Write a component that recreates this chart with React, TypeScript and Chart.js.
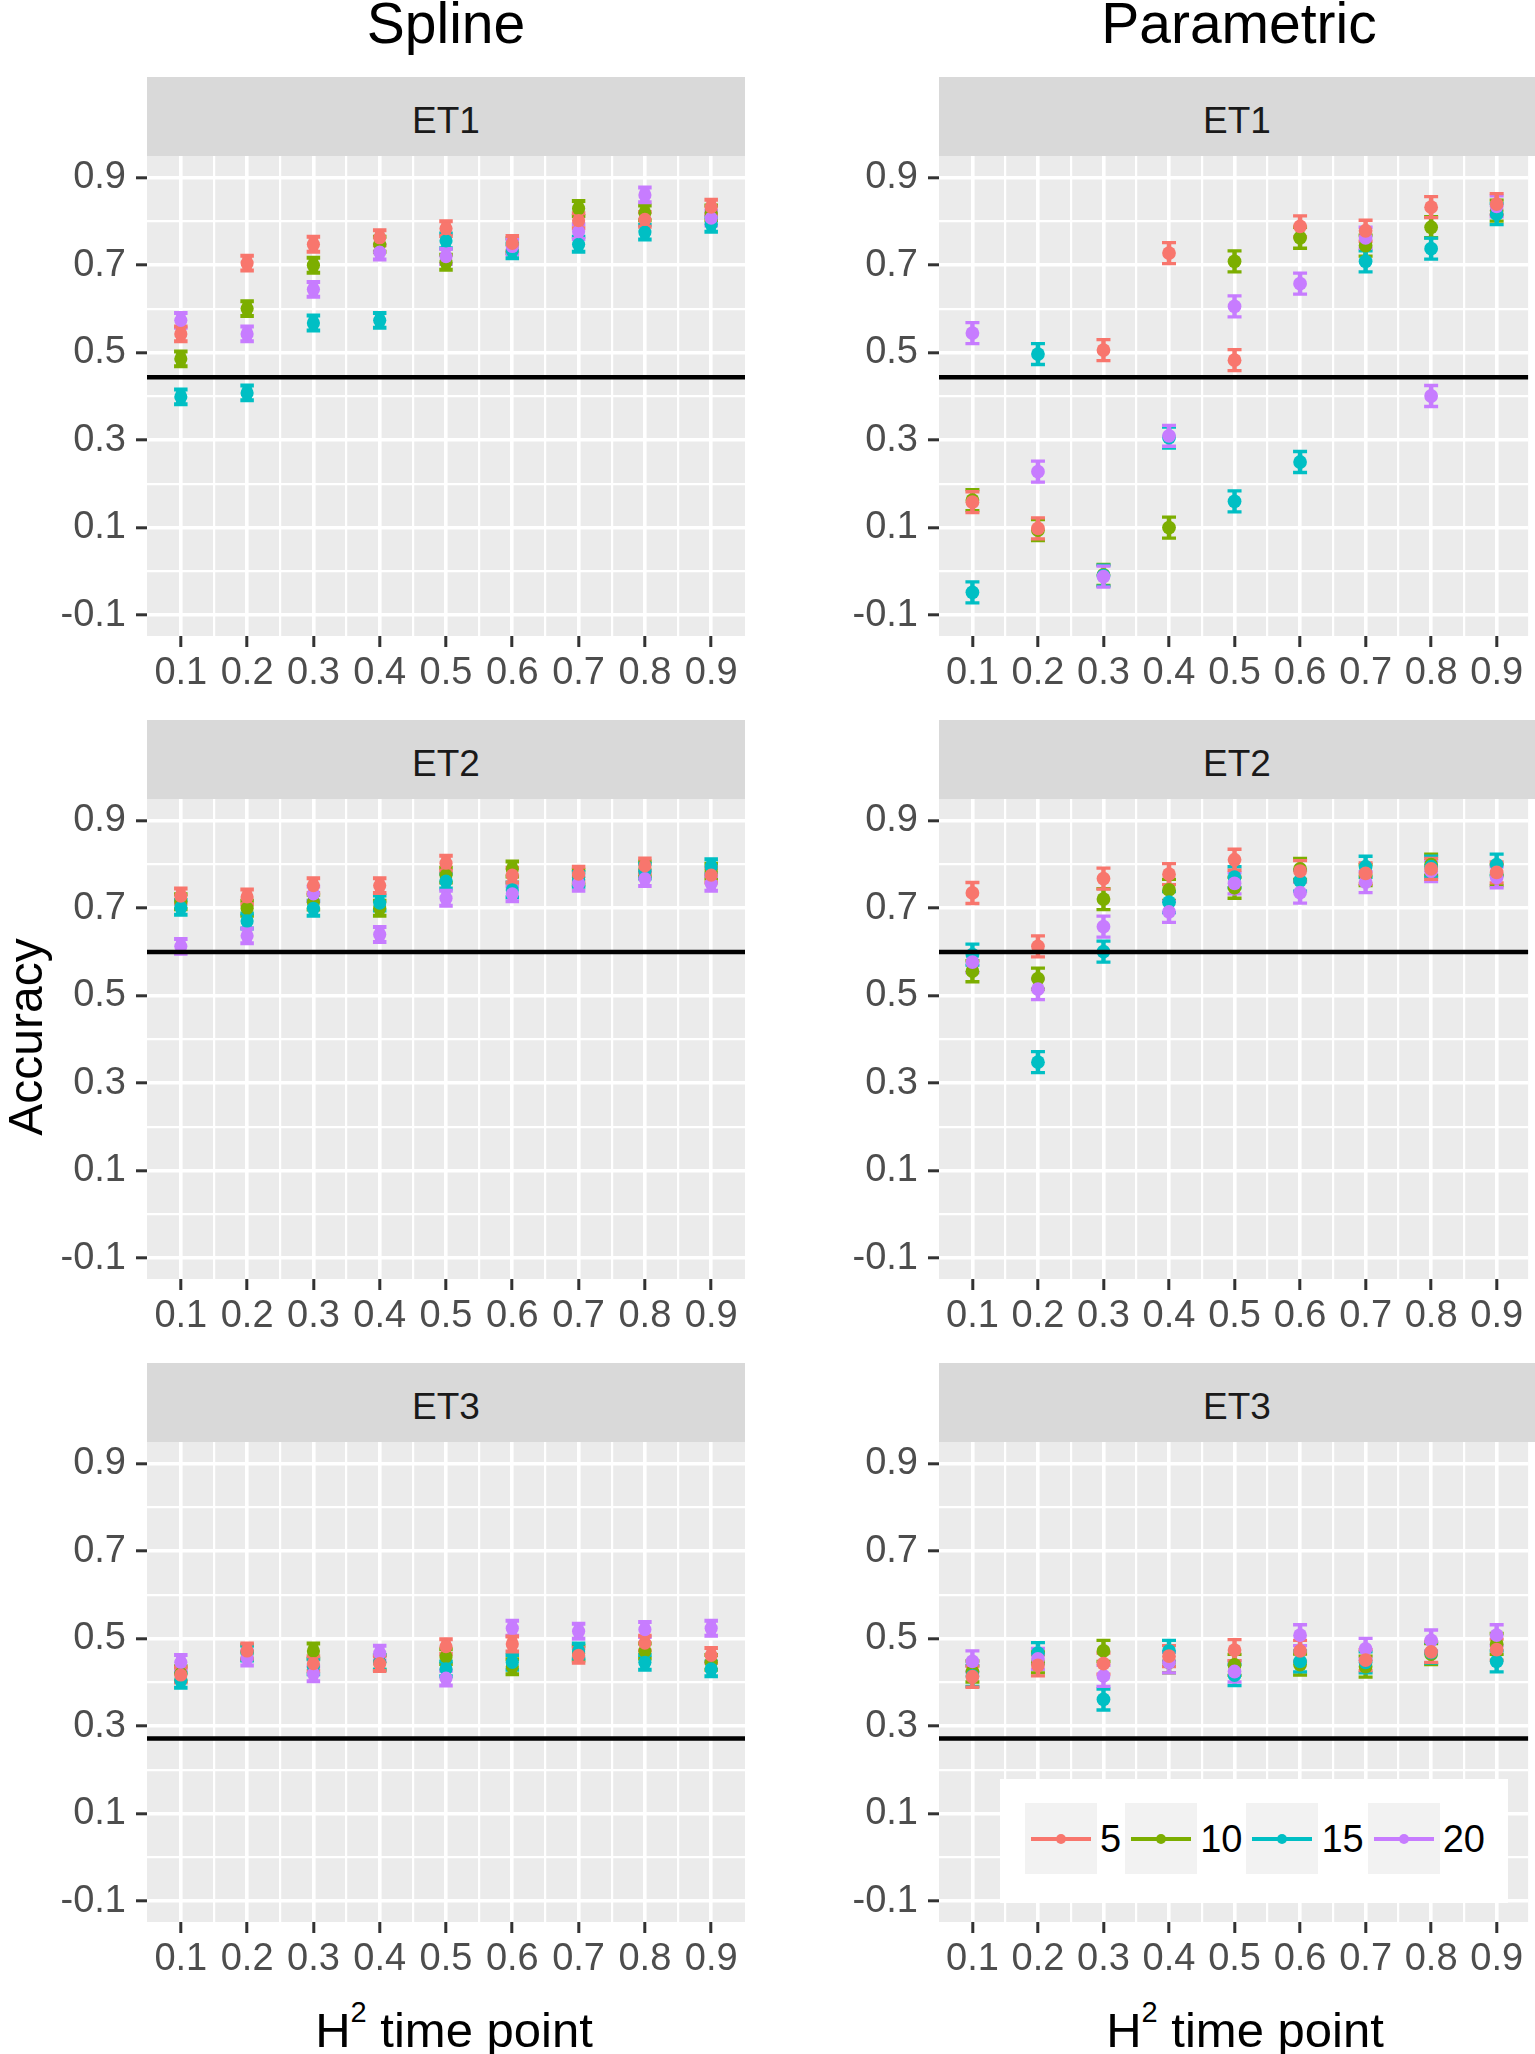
import React, { useEffect, useRef } from 'react';
import { Chart, registerables } from 'chart.js';

Chart.register(...registerables);

// ---- data ----
const timePoints = [0.1, 0.2, 0.3, 0.4, 0.5, 0.6, 0.7, 0.8, 0.9];
const groupLabels = ['5', '10', '15', '20'];
const groupColors = ['#F8766D', '#7CAE00', '#00BFC4', '#C77CFF'];
// which group ends up on top (0 = top): 5, then 20, 15, 10
const stackOrder = [0, 3, 2, 1];

const yMajorTicks = [-0.1, 0.1, 0.3, 0.5, 0.7, 0.9];
const yMinorTicks = [0, 0.2, 0.4, 0.6, 0.8];
const xMajorTicks = [0.1, 0.2, 0.3, 0.4, 0.5, 0.6, 0.7, 0.8, 0.9];
const xMinorTicks = [0.15, 0.25, 0.35, 0.45, 0.55, 0.65, 0.75, 0.85];

// Spline, ET1
const splineEt1N5 = [0.543, 0.705, 0.748, 0.763, 0.784, 0.75, 0.802, 0.805, 0.833];
const splineEt1N10 = [0.486, 0.601, 0.7, 0.748, 0.707, 0.745, 0.83, 0.82, 0.82];
const splineEt1N15 = [0.399, 0.408, 0.568, 0.574, 0.756, 0.733, 0.748, 0.776, 0.794];
const splineEt1N20 = [0.574, 0.543, 0.645, 0.73, 0.72, 0.743, 0.777, 0.861, 0.808];
// Parametric, ET1
const paramEt1N5 = [0.158, 0.098, 0.506, 0.728, 0.483, 0.789, 0.779, 0.833, 0.84];
const paramEt1N10 = [0.163, 0.094, -0.008, 0.1, 0.709, 0.763, 0.745, 0.787, 0.825];
const paramEt1N15 = [-0.048, 0.497, -0.01, 0.306, 0.16, 0.25, 0.709, 0.738, 0.817];
const paramEt1N20 = [0.545, 0.228, -0.012, 0.31, 0.606, 0.658, 0.763, 0.401, 0.835];
// Spline, ET2
const splineEt2N5 = [0.728, 0.726, 0.752, 0.752, 0.803, 0.776, 0.778, 0.797, 0.776];
const splineEt2N10 = [0.715, 0.7, 0.714, 0.7, 0.776, 0.79, 0.771, 0.79, 0.785];
const splineEt2N15 = [0.702, 0.671, 0.7, 0.712, 0.762, 0.742, 0.766, 0.785, 0.795];
const splineEt2N20 = [0.613, 0.637, 0.733, 0.64, 0.723, 0.733, 0.757, 0.768, 0.757];
// Parametric, ET2
const paramEt2N5 = [0.735, 0.613, 0.768, 0.778, 0.811, 0.785, 0.78, 0.79, 0.782];
const paramEt2N10 = [0.556, 0.539, 0.721, 0.742, 0.747, 0.79, 0.776, 0.8, 0.776];
const paramEt2N15 = [0.594, 0.348, 0.601, 0.714, 0.771, 0.763, 0.795, 0.795, 0.8];
const paramEt2N20 = [0.577, 0.515, 0.658, 0.692, 0.757, 0.736, 0.76, 0.785, 0.771];
// Spline, ET3
const splineEt3N5 = [0.417, 0.472, 0.443, 0.443, 0.482, 0.488, 0.462, 0.49, 0.462];
const splineEt3N10 = [0.42, 0.469, 0.472, 0.446, 0.459, 0.436, 0.467, 0.472, 0.446];
const splineEt3N15 = [0.405, 0.467, 0.436, 0.446, 0.431, 0.446, 0.472, 0.446, 0.431];
const splineEt3N20 = [0.446, 0.456, 0.42, 0.467, 0.41, 0.524, 0.517, 0.521, 0.524];
// Parametric, ET3
const paramEt3N5 = [0.413, 0.439, 0.443, 0.46, 0.474, 0.472, 0.451, 0.47, 0.475];
const paramEt3N10 = [0.425, 0.446, 0.472, 0.446, 0.44, 0.441, 0.436, 0.465, 0.488];
const paramEt3N15 = [0.415, 0.467, 0.361, 0.472, 0.417, 0.448, 0.446, 0.468, 0.448];
const paramEt3N20 = [0.448, 0.454, 0.415, 0.446, 0.425, 0.508, 0.477, 0.496, 0.508];

// horizontal reference line per trait
const h2Et1 = 0.444;
const h2Et2 = 0.6;
const h2Et3 = 0.272;

// half-width of the error bars
const splineErr = 0.017;
const paramErr = 0.024;

// ---- layout ----
const FONT = "'Liberation Sans', Arial, Helvetica, sans-serif";
const STRIP_H = 79;
const PLOT_H = 480;
const XAXIS_H = 60;
const ROW_TOPS = [77, 720, 1363];
const X_MIN = 0.049;
const X_MAX = 0.951;
const Y_MIN = -0.148;
const Y_MAX = 0.95;

const isIn = (list: number[], v: number) => list.some((t) => Math.abs(t - v) < 1e-9);

const panelBackground = {
  id: 'panelBackground',
  beforeDraw(chart: any) {
    const { ctx, chartArea: a } = chart;
    ctx.save();
    ctx.fillStyle = '#EBEBEB';
    ctx.fillRect(a.left, a.top, a.right - a.left, a.bottom - a.top);
    ctx.restore();
  },
};

const errorBars = {
  id: 'errorBars',
  beforeDatasetsDraw(chart: any, _args: any, opts: any) {
    const { ctx, chartArea: a, scales } = chart;
    ctx.save();
    ctx.beginPath();
    ctx.rect(a.left, a.top, a.right - a.left, a.bottom - a.top);
    ctx.clip();
    const sets = [...chart.data.datasets].sort((p: any, q: any) => q.order - p.order);
    sets.forEach((ds: any) => {
      ctx.strokeStyle = ds.backgroundColor;
      ds.data.forEach((pt: any) => {
        const x = scales.x.getPixelForValue(pt.x);
        const y1 = scales.y.getPixelForValue(pt.y + opts.half);
        const y2 = scales.y.getPixelForValue(pt.y - opts.half);
        ctx.lineWidth = opts.barWidth;
        ctx.beginPath();
        ctx.moveTo(x, y1);
        ctx.lineTo(x, y2);
        ctx.stroke();
        ctx.lineWidth = opts.capWidth;
        ctx.beginPath();
        ctx.moveTo(x - opts.cap / 2, y1);
        ctx.lineTo(x + opts.cap / 2, y1);
        ctx.moveTo(x - opts.cap / 2, y2);
        ctx.lineTo(x + opts.cap / 2, y2);
        ctx.stroke();
      });
    });
    ctx.restore();
  },
};

const referenceLine = {
  id: 'referenceLine',
  afterDatasetsDraw(chart: any, _args: any, opts: any) {
    const { ctx, chartArea: a, scales } = chart;
    const y = scales.y.getPixelForValue(opts.value);
    ctx.save();
    ctx.strokeStyle = '#000000';
    ctx.lineWidth = 4.5;
    ctx.beginPath();
    ctx.moveTo(a.left, y);
    ctx.lineTo(a.right, y);
    ctx.stroke();
    ctx.restore();
  },
};

const gridFor = (majors: number[]) => ({
  color: '#FFFFFF',
  lineWidth: (c: any) => (c.tick && isIn(majors, c.tick.value) ? 3.6 : 2.2),
  tickColor: (c: any) => (c.tick && isIn(majors, c.tick.value) ? '#333333' : 'rgba(0,0,0,0)'),
  tickLength: 11,
  tickWidth: 3,
  drawTicks: true,
});

const Panel = (props: any) => {
  const chartRef = useRef<any>(null);
  const { left, top, canvasWidth, axisWidth, plotWidth, label, series, h2, kind } = props;
  const canvasHeight = STRIP_H + PLOT_H + XAXIS_H;

  useEffect(() => {
    if (chartRef.current === null) return;
    // right column is cut by the image edge: keep the same px per unit
    const xMax = X_MIN + ((X_MAX - X_MIN) * plotWidth) / 598;
    const spline = kind === 'spline';
    const chart: any = new Chart(chartRef.current, {
      type: 'scatter',
      data: {
        datasets: series.map((vals: number[], i: number) => ({
          label: groupLabels[i],
          data: timePoints.map((x, j) => ({ x, y: vals[j] })),
          backgroundColor: groupColors[i],
          borderColor: groupColors[i],
          pointRadius: spline ? 6.6 : 6.9,
          pointBorderWidth: 0,
          order: stackOrder[i],
        })),
      },
      options: {
        animation: false,
        responsive: false,
        maintainAspectRatio: false,
        events: [],
        layout: {
          padding: { top: STRIP_H, left: 0, bottom: 0, right: canvasWidth - axisWidth - plotWidth },
        },
        scales: {
          x: {
            type: 'linear',
            min: X_MIN,
            max: xMax,
            afterBuildTicks: (s: any) => {
              s.ticks = [...xMajorTicks, ...xMinorTicks].sort((a, b) => a - b).map((v) => ({ value: v }));
            },
            afterFit: (s: any) => {
              s.height = XAXIS_H;
            },
            ticks: {
              autoSkip: false,
              maxRotation: 0,
              padding: 4,
              color: '#4D4D4D',
              font: { family: FONT, size: 38 },
              callback: (v: any) => (isIn(xMajorTicks, v) ? Number(v).toFixed(1) : ''),
            },
            grid: gridFor(xMajorTicks),
            border: { display: false },
          },
          y: {
            type: 'linear',
            min: Y_MIN,
            max: Y_MAX,
            afterBuildTicks: (s: any) => {
              s.ticks = [...yMajorTicks, ...yMinorTicks].sort((a, b) => a - b).map((v) => ({ value: v }));
            },
            afterFit: (s: any) => {
              s.width = axisWidth;
            },
            ticks: {
              autoSkip: false,
              padding: 10,
              color: '#4D4D4D',
              font: { family: FONT, size: 38 },
              callback: (v: any) => (isIn(yMajorTicks, v) ? Number(v).toFixed(1) : ''),
            },
            grid: gridFor(yMajorTicks),
            border: { display: false },
          },
        },
        plugins: {
          legend: { display: false },
          tooltip: { enabled: false },
          errorBars: spline
            ? { half: splineErr, cap: 13.5, capWidth: 4, barWidth: 9.5 }
            : { half: paramErr, cap: 14, capWidth: 3.3, barWidth: 4.5 },
          referenceLine: { value: h2 },
        } as any,
      },
      plugins: [panelBackground, errorBars, referenceLine],
    } as any);

    return () => {
      chart.destroy();
    };
  }, []);

  return (
    <>
      <canvas
        ref={chartRef}
        width={canvasWidth}
        height={canvasHeight}
        style={{ position: 'absolute', left, top, width: canvasWidth, height: canvasHeight }}
      />
      <div
        style={{
          position: 'absolute',
          left: left + axisWidth,
          top,
          width: plotWidth,
          height: STRIP_H,
          background: '#D9D9D9',
        }}
      >
        <div
          style={{
            position: 'absolute',
            left: 0,
            right: 0,
            top: 25,
            textAlign: 'center',
            fontSize: 37,
            lineHeight: '37px',
            color: '#1A1A1A',
          }}
        >
          {label}
        </div>
      </div>
    </>
  );
};

const Legend = () => (
  <div
    style={{
      position: 'absolute',
      left: 1000,
      top: 1779,
      width: 508,
      height: 124,
      background: '#FFFFFF',
    }}
  >
    <div style={{ position: 'absolute', left: 25, top: 24, display: 'flex', alignItems: 'center' }}>
      {groupLabels.map((g, i) => (
        <React.Fragment key={g}>
          <div style={{ position: 'relative', width: 72, height: 71, background: '#F2F2F2' }}>
            <div
              style={{
                position: 'absolute',
                left: 6,
                right: 6,
                top: 33.5,
                height: 4,
                background: groupColors[i],
              }}
            />
            <div
              style={{
                position: 'absolute',
                left: 31,
                top: 30.5,
                width: 10,
                height: 10,
                borderRadius: 5,
                background: groupColors[i],
              }}
            />
          </div>
          <div style={{ fontSize: 38, lineHeight: '38px', color: '#000000', marginLeft: 3, marginRight: 4 }}>{g}</div>
        </React.Fragment>
      ))}
    </div>
  </div>
);

const XTitle = ({ cx }: { cx: number }) => (
  <div
    style={{
      position: 'absolute',
      left: cx - 300,
      width: 600,
      top: 2006,
      textAlign: 'center',
      fontSize: 49,
      lineHeight: '49px',
      color: '#000000',
      whiteSpace: 'nowrap',
    }}
  >
    H<span style={{ fontSize: 29, position: 'relative', top: -25 }}>2</span> time point
  </div>
);

const ColumnTitle = ({ cx, text }: { cx: number; text: string }) => (
  <div
    style={{
      position: 'absolute',
      left: cx - 300,
      width: 600,
      top: -5,
      textAlign: 'center',
      fontSize: 57,
      lineHeight: '57px',
      color: '#000000',
    }}
  >
    {text}
  </div>
);

const App = () => {
  useEffect(() => {
    document.body.style.margin = '0';
  }, []);

  const left = { left: 0, canvasWidth: 767, axisWidth: 147, plotWidth: 598, kind: 'spline' };
  const right = { left: 767, canvasWidth: 768, axisWidth: 172, plotWidth: 596, kind: 'param' };

  return (
    <div
      style={{
        position: 'relative',
        width: 1535,
        height: 2054,
        overflow: 'hidden',
        background: '#FFFFFF',
        fontFamily: FONT,
      }}
    >
      <ColumnTitle cx={446} text="Spline" />
      <ColumnTitle cx={1239} text="Parametric" />

      <Panel {...left} top={ROW_TOPS[0]} label="ET1" h2={h2Et1}
        series={[splineEt1N5, splineEt1N10, splineEt1N15, splineEt1N20]} />
      <Panel {...right} top={ROW_TOPS[0]} label="ET1" h2={h2Et1}
        series={[paramEt1N5, paramEt1N10, paramEt1N15, paramEt1N20]} />
      <Panel {...left} top={ROW_TOPS[1]} label="ET2" h2={h2Et2}
        series={[splineEt2N5, splineEt2N10, splineEt2N15, splineEt2N20]} />
      <Panel {...right} top={ROW_TOPS[1]} label="ET2" h2={h2Et2}
        series={[paramEt2N5, paramEt2N10, paramEt2N15, paramEt2N20]} />
      <Panel {...left} top={ROW_TOPS[2]} label="ET3" h2={h2Et3}
        series={[splineEt3N5, splineEt3N10, splineEt3N15, splineEt3N20]} />
      <Panel {...right} top={ROW_TOPS[2]} label="ET3" h2={h2Et3}
        series={[paramEt3N5, paramEt3N10, paramEt3N15, paramEt3N20]} />

      <Legend />

      <div
        style={{
          position: 'absolute',
          left: 26 - 200,
          top: 1037 - 24,
          width: 400,
          height: 48,
          textAlign: 'center',
          fontSize: 48,
          lineHeight: '48px',
          transform: 'rotate(-90deg)',
          color: '#000000',
        }}
      >
        Accuracy
      </div>

      <XTitle cx={454} />
      <XTitle cx={1245} />
    </div>
  );
};

export default App;
